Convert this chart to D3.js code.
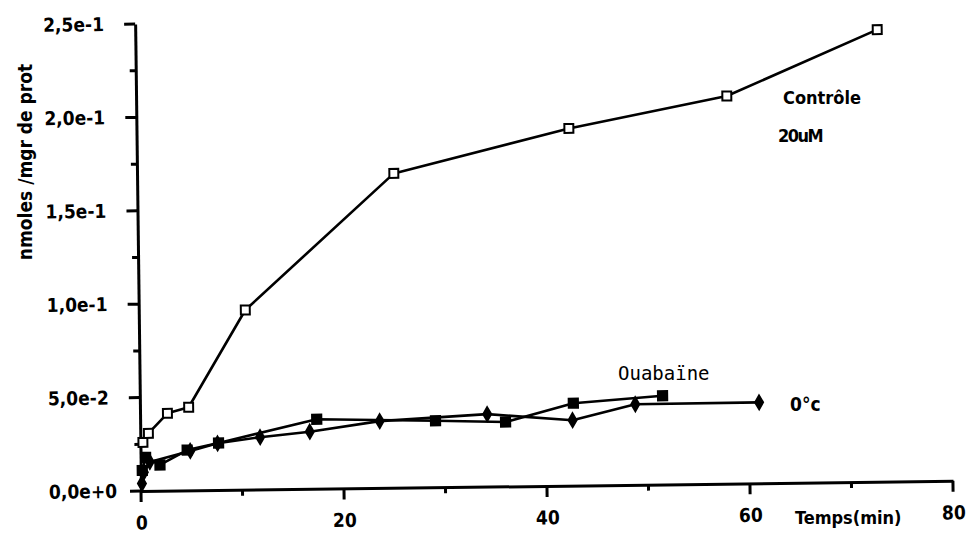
<!DOCTYPE html>
<html><head><meta charset="utf-8">
<script src="https://cdn.jsdelivr.net/npm/d3@7"></script>
<style>body{margin:0;background:#fff} svg{display:block}</style>
</head><body><svg id="c" width="968" height="536"></svg>
<script>
// ---- data ----
const controlTime  = [0.25, 0.8, 2.7, 4.8, 10.5, 25.3, 42.6, 58.2, 73.1];
const controlValue = [0.026, 0.0308, 0.0414, 0.0445, 0.0962, 0.1683, 0.1912, 0.2075, 0.242];
const ouabaineTime  = [0.15, 0.5, 1.9, 4.6, 7.7, 17.4, 29.1, 36.0, 42.7, 51.5];
const ouabaineValue = [0.011, 0.018, 0.0138, 0.0216, 0.0252, 0.0372, 0.0356, 0.0345, 0.0441, 0.0475];
const coldTime  = [0.1, 0.3, 0.9, 4.9, 7.6, 11.8, 16.7, 23.6, 34.2, 42.6, 48.8, 61.0];
const coldValue = [0.004, 0.010, 0.0155, 0.0211, 0.025, 0.028, 0.0306, 0.0358, 0.0388, 0.035, 0.0431, 0.0433];
const yTickValues = [0, 0.05, 0.1, 0.15, 0.2, 0.25];
const yTickLabels = ["0,0e+0", "5,0e-2", "1,0e-1", "1,5e-1", "2,0e-1", "2,5e-1"];
const yMinorTicks = [0.025, 0.075, 0.125, 0.175, 0.225];
const xTickValues = [0, 20, 40, 60, 80];
const xTickLabels = ["0", "20", "40", "60", "80"];
const xMinorTicks = [10, 30, 50, 70];

const svg = d3.select("#c");
svg.append("rect").attr("width", 968).attr("height", 536).attr("fill", "#fff");

const W = 812, H = 467;
const x = d3.scaleLinear().domain([0, 80]).range([0, W]);
const y = d3.scaleLinear().domain([0, 0.25]).range([H, 0]);

const g = svg.append("g")
  .attr("transform", `translate(141,491) rotate(-0.72) translate(0,${-H})`);

const tickFont = "'DejaVu Sans Condensed','DejaVu Sans',sans-serif";

// y axis
const yAxis = g.append("g").call(
  d3.axisLeft(y).tickValues(yTickValues).tickSize(10).tickSizeOuter(0)
    .tickFormat((d, i) => yTickLabels[i]));
yAxis.select(".domain").attr("stroke", "#000").attr("stroke-width", 3);
yAxis.selectAll(".tick line").remove();
yAxis.selectAll(".tick text")
  .attr("text-anchor", "start").attr("x", -92)
  .attr("font-family", tickFont).attr("font-weight", "bold")
  .attr("font-size", 19).attr("fill", "#000");
const yTickPath = yTickValues.map(d => `M0,${y(d)}h-11`)
  .concat(yMinorTicks.map(d => `M0,${y(d)}h-6`)).join("");
g.append("path").attr("d", yTickPath).attr("fill", "none")
  .attr("stroke", "#000").attr("stroke-width", 3);

// x axis
const xAxis = g.append("g").attr("transform", `translate(0,${H})`).call(
  d3.axisBottom(x).tickValues(xTickValues).tickSize(10).tickSizeOuter(0)
    .tickPadding(15).tickFormat((d, i) => xTickLabels[i]));
xAxis.select(".domain").attr("stroke", "#000").attr("stroke-width", 3);
xAxis.selectAll(".tick line").remove();
xAxis.selectAll(".tick text")
  .attr("font-family", tickFont).attr("font-weight", "bold")
  .attr("font-size", 19).attr("fill", "#000");
const xTickPath = xTickValues.map(d => `M${x(d)},${H}v11`)
  .concat(xMinorTicks.map(d => `M${x(d)},${H}v6`)).join("");
g.append("path").attr("d", xTickPath).attr("fill", "none")
  .attr("stroke", "#000").attr("stroke-width", 3);

// series
const line = d3.line().x(d => x(d[0])).y(d => y(d[1]));
const series = [
  {t: controlTime, v: controlValue, shape: d3.symbolSquare, fill: "#fff", size: 80},
  {t: ouabaineTime, v: ouabaineValue, shape: d3.symbolSquare, fill: "#000", size: 85},
  {t: coldTime, v: coldValue, shape: d3.symbolDiamond, fill: "#000", size: 55}
];
series.forEach(s => {
  const pts = s.t.map((t, i) => [t, s.v[i]]);
  g.append("path").datum(pts).attr("d", line)
    .attr("fill", "none").attr("stroke", "#000").attr("stroke-width", 2.6)
    .attr("stroke-linejoin", "round");
});
series.forEach(s => {
  const pts = s.t.map((t, i) => [t, s.v[i]]);
  g.selectAll(null).data(pts).enter().append("path")
    .attr("transform", d => `translate(${x(d[0])},${y(d[1])})`)
    .attr("d", d3.symbol().type(s.shape).size(s.size))
    .attr("fill", s.fill).attr("stroke", "#000").attr("stroke-width", 2);
});

// texts
const boldFont = "'DejaVu Sans Condensed','DejaVu Sans',sans-serif";
svg.append("text").attr("transform", "translate(32,162) rotate(-90)")
  .attr("text-anchor", "middle").attr("font-family", boldFont)
  .attr("font-weight", "bold").attr("font-size", 19).text("nmoles /mgr de prot");
svg.append("text").attr("x", 795).attr("y", 524).attr("font-family", boldFont)
  .attr("font-weight", "bold").attr("font-size", 18).text("Temps(min)");
svg.append("text").attr("x", 783).attr("y", 104).attr("font-family", boldFont)
  .attr("font-weight", "bold").attr("font-size", 18).text("Contrôle");
svg.append("text").attr("x", 778).attr("y", 142).attr("font-family", boldFont)
  .attr("font-weight", "bold").attr("font-size", 18).attr("letter-spacing", -1.5).text("20uM");
svg.append("text").attr("x", 618).attr("y", 380).attr("font-family", "'DejaVu Sans Mono',monospace")
  .attr("font-size", 19).text("Ouabaïne");
svg.append("text").attr("x", 790).attr("y", 411).attr("font-family", boldFont)
  .attr("font-weight", "bold").attr("font-size", 19).text("0°c");
</script>
</body></html>
